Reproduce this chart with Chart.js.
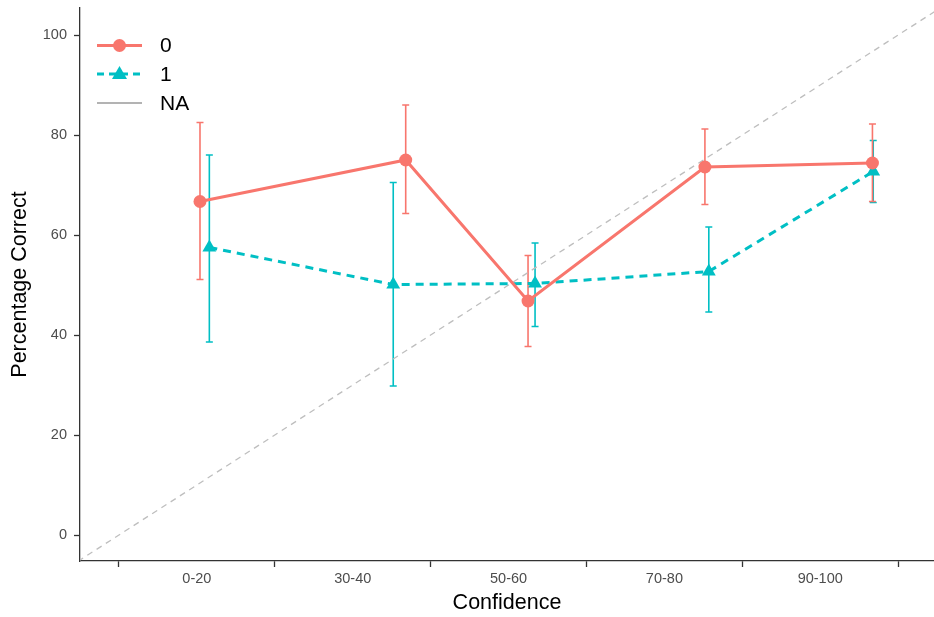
<!DOCTYPE html>
<html>
<head>
<meta charset="utf-8">
<script src="https://cdn.jsdelivr.net/npm/chart.js@4"></script>
<style>
  html, body { margin: 0; padding: 0; background: #ffffff; }
  #wrap { width: 934px; height: 617px; position: relative; }
</style>
</head>
<body>
<div id="wrap"><canvas id="c" width="934" height="617"></canvas></div>
<script>
// ---- data ----
const categories = ['0-20', '30-40', '50-60', '70-80', '90-100'];
const categoryPositions = [10, 30, 50, 70, 90];
const xAxisTicks = [0, 20, 40, 60, 80, 100];
const yAxisTicks = [0, 20, 40, 60, 80, 100];
const seriesNames = ['0', '1', 'NA'];

const group0X  = [10.4, 36.8, 52.5, 75.2, 96.7];
const group0Y  = [66.7, 75.0, 46.8, 73.6, 74.4];
const group0Lo = [51.1, 64.3, 37.7, 66.1, 66.7];
const group0Hi = [82.5, 86.0, 55.9, 81.2, 82.2];

const group1X  = [11.6, 35.2, 53.4, 75.7, 96.8];
const group1Y  = [57.5, 50.1, 50.3, 52.7, 72.7];
const group1Lo = [38.6, 29.8, 41.7, 44.6, 66.5];
const group1Hi = [76.0, 70.5, 58.4, 61.6, 78.9];

const referenceLineX = [-10, 110]; // y = x

const RED = '#F8766D', TEAL = '#00BFC4', GREY = '#BEBEBE';
const FONT = '"Liberation Sans", Arial, Helvetica, sans-serif';

const pts = (xs, ys) => xs.map((x, i) => ({ x: x, y: ys[i] }));

const errorBarPlugin = {
  id: 'errorBars',
  beforeDatasetsDraw(chart) {
    const ctx = chart.ctx, xs = chart.scales.x, ys = chart.scales.y;
    const groups = [
      { x: group1X, lo: group1Lo, hi: group1Hi, color: TEAL },
      { x: group0X, lo: group0Lo, hi: group0Hi, color: RED }
    ];
    ctx.save();
    ctx.lineWidth = 1.6;
    groups.forEach(g => {
      ctx.strokeStyle = g.color;
      g.x.forEach((xv, i) => {
        const px = xs.getPixelForValue(xv);
        const pLo = ys.getPixelForValue(g.lo[i]);
        const pHi = ys.getPixelForValue(g.hi[i]);
        const w = 3.5;
        ctx.beginPath();
        ctx.moveTo(px, pLo); ctx.lineTo(px, pHi);
        ctx.moveTo(px - w, pLo); ctx.lineTo(px + w, pLo);
        ctx.moveTo(px - w, pHi); ctx.lineTo(px + w, pHi);
        ctx.stroke();
      });
    });
    ctx.restore();
  }
};

const legendPlugin = {
  id: 'ggLegend',
  afterDraw(chart) {
    const ctx = chart.ctx;
    const x0 = 97, x1 = 142, xm = (x0 + x1) / 2, tx = 160;
    const rows = [
      { y: 45.5, color: RED, width: 3, dash: [], marker: 'circle' },
      { y: 74, color: TEAL, width: 3, dash: [7, 5], marker: 'triangle' },
      { y: 103, color: '#B3B3B3', width: 2, dash: [], marker: null }
    ];
    ctx.save();
    rows.forEach((r, i) => {
      ctx.strokeStyle = r.color;
      ctx.lineWidth = r.width;
      ctx.setLineDash(r.dash);
      ctx.beginPath(); ctx.moveTo(x0, r.y); ctx.lineTo(x1, r.y); ctx.stroke();
      ctx.setLineDash([]);
      ctx.fillStyle = r.color;
      if (r.marker === 'circle') {
        ctx.beginPath(); ctx.arc(xm, r.y, 6.5, 0, Math.PI * 2); ctx.fill();
      } else if (r.marker === 'triangle') {
        ctx.beginPath();
        ctx.moveTo(xm, r.y - 8); ctx.lineTo(xm + 7.5, r.y + 5); ctx.lineTo(xm - 7.5, r.y + 5);
        ctx.closePath(); ctx.fill();
      }
      ctx.fillStyle = '#000';
      ctx.font = '21px ' + FONT;
      ctx.textBaseline = 'middle';
      ctx.textAlign = 'left';
      ctx.fillText(seriesNames[i], tx, r.y + 1);
    });
    ctx.restore();
  }
};

new Chart(document.getElementById('c'), {
  type: 'line',
  data: {
    datasets: [
      {
        label: seriesNames[0],
        data: pts(group0X, group0Y),
        borderColor: RED, backgroundColor: RED,
        borderWidth: 3,
        pointStyle: 'circle', pointRadius: 6.5, pointBorderWidth: 0,
        pointBackgroundColor: RED,
        tension: 0
      },
      {
        label: seriesNames[1],
        data: pts(group1X, group1Y),
        borderColor: TEAL, backgroundColor: TEAL,
        borderWidth: 3, borderDash: [8, 6],
        pointStyle: 'triangle', pointRadius: 8, pointBorderWidth: 0,
        pointBackgroundColor: TEAL,
        tension: 0
      },
      {
        label: seriesNames[2],
        data: referenceLineX.map(v => ({ x: v, y: v })),
        borderColor: GREY, borderWidth: 1.3, borderDash: [6, 5],
        pointRadius: 0, tension: 0
      }
    ]
  },
  options: {
    responsive: false,
    animation: false,
    layout: { autoPadding: false, padding: { left: 0, right: 0, top: 8, bottom: 0 } },
    plugins: { legend: { display: false }, tooltip: { enabled: false } },
    scales: {
      x: {
        type: 'linear',
        min: -5.0, max: 104.6,
        afterBuildTicks(scale) {
          const vals = xAxisTicks.concat(categoryPositions).sort((a, b) => a - b);
          scale.ticks = vals.map(v => ({ value: v }));
        },
        afterFit(scale) {
          scale.height = 56;
          scale.paddingLeft = 0; scale.paddingRight = 0;
          scale.paddingTop = 0; scale.paddingBottom = 0;
        },
        grid: {
          drawOnChartArea: false, drawTicks: true, tickLength: 6, tickWidth: 1.3,
          tickColor: (c) => (c.tick && xAxisTicks.includes(c.tick.value)) ? '#333333' : 'rgba(0,0,0,0)'
        },
        border: { display: true, color: '#333333', width: 1.3 },
        ticks: {
          autoSkip: false, maxRotation: 0, padding: 3,
          color: '#4D4D4D', font: { family: FONT, size: 14.5 },
          callback: (v) => {
            const i = categoryPositions.indexOf(v);
            return i >= 0 ? categories[i] : '';
          }
        },
        title: {
          display: true, text: 'Confidence', color: '#000',
          font: { family: FONT, size: 21.5 }, padding: { top: 0, bottom: 1 }
        }
      },
      y: {
        type: 'linear',
        min: -5.2, max: 105.4,
        afterBuildTicks(scale) { scale.ticks = yAxisTicks.map(v => ({ value: v })); },
        afterFit(scale) {
          scale.width = 80;
          scale.paddingLeft = 0; scale.paddingRight = 0;
          scale.paddingTop = 0; scale.paddingBottom = 0;
        },
        grid: { drawOnChartArea: false, drawTicks: true, tickLength: 6, tickWidth: 1.3, tickColor: '#333333' },
        border: { display: true, color: '#333333', width: 1.3 },
        ticks: { padding: 7, color: '#4D4D4D', font: { family: FONT, size: 14.5 } },
        title: {
          display: true, text: 'Percentage Correct', color: '#000',
          font: { family: FONT, size: 21.5 }, padding: { top: 7.5, bottom: 0 }
        }
      }
    }
  },
  plugins: [errorBarPlugin, legendPlugin]
});
</script>
</body>
</html>
